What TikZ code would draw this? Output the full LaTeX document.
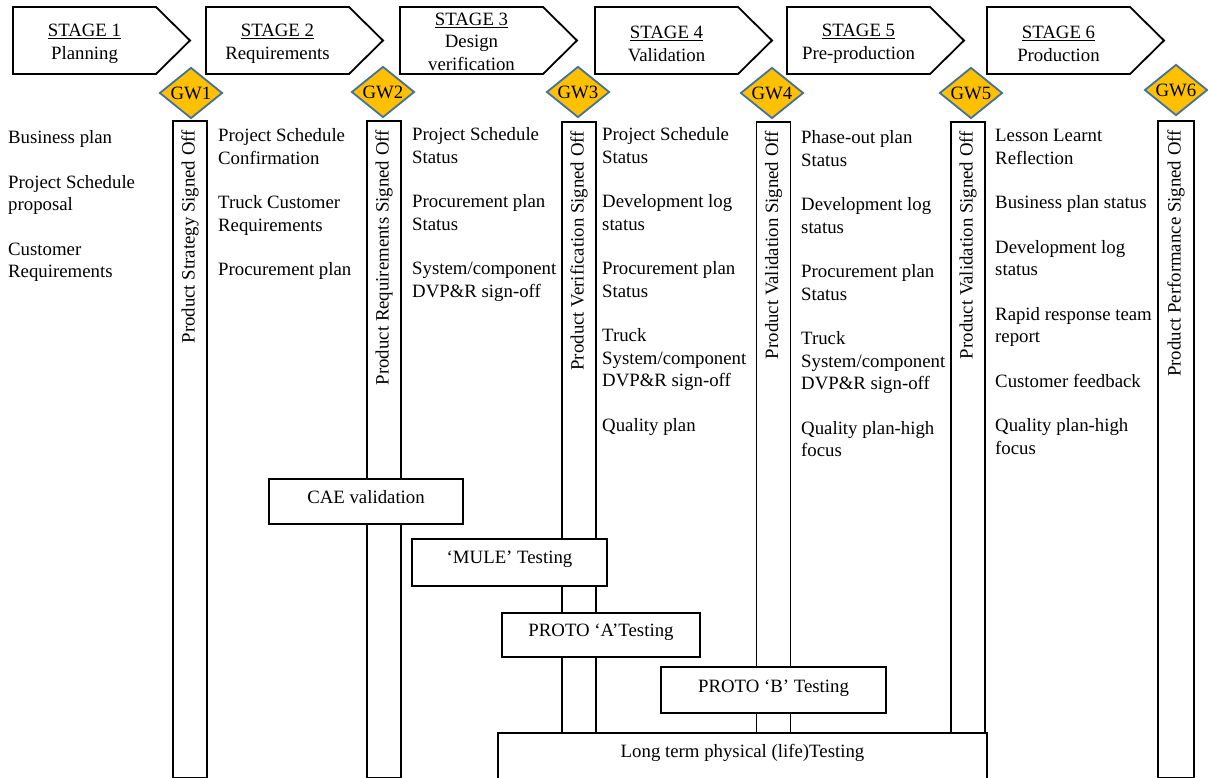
\documentclass[tikz,border=0pt]{standalone}
\usepackage{fontspec}
\setmainfont{Liberation Serif}
\usetikzlibrary{shapes.geometric}
\definecolor{gwfill}{HTML}{FFC000}
\definecolor{gwline}{HTML}{41719C}
\begin{document}
\begin{tikzpicture}[x=1pt,y=-1pt,
  txt/.style={font=\fontsize{18.8}{22.5}\selectfont, inner sep=0pt},
  stagebox/.style={draw=black, line width=1.8pt, fill=white, line join=miter},
  stagetext/.style={txt, align=center},
  gate/.style={diamond, aspect=1.25, draw=gwline, fill=gwfill, line width=1.8pt,
    txt, minimum width=63pt, minimum height=51pt},
  bar/.style={draw=black, line width=1.8pt, fill=white, inner sep=0pt,
    minimum width=34pt, anchor=north},
  barlabel/.style={txt, rotate=90, anchor=east},
  items/.style={txt, align=left, anchor=north west},
  testbox/.style={draw=black, line width=1.8pt, fill=white, txt},
]
\clip (0,0) rectangle (1208,778);

% stage banners
\foreach \l/\n/\t/\y in {13/1/Planning/44, 206/2/Requirements/44, 400/3/{Design\\verification}/41.5,
                      595/4/Validation/44, 787/5/Pre-production/44, 987/6/Production/44} {
  \draw[stagebox] (\l,7) -- ++(143,0) -- ++(34,33.5) -- ++(-34,33.5) -- ++(-143,0) -- cycle;
  \node[stagetext] (stage\n) at (\l+71.5,\y) {\underline{STAGE \n}\\\t};
}

% gateway bars
\node[bar, minimum height=657pt] (bar1) at (190,120) {};
\node[bar, minimum height=657pt] (bar2) at (384,120) {};
\node[bar, minimum height=612pt] (bar3) at (579,121) {};
\node[bar, minimum height=612pt] (bar4) at (773.5,121) {};
\node[bar, minimum height=612pt] (bar5) at (968,121) {};
\node[bar, minimum height=657pt, minimum width=36pt] (bar6) at (1176,120) {};

\node[barlabel] (lab1) at ([yshift=-10pt]bar1.north) {Product Strategy Signed Off};
\node[barlabel] (lab2) at ([yshift=-10pt]bar2.north) {Product Requirements Signed Off};
\node[barlabel] (lab3) at ([yshift=-10pt]bar3.north) {Product Verification Signed Off};
\node[barlabel] (lab4) at ([yshift=-10pt]bar4.north) {Product Validation Signed Off};
\node[barlabel] (lab5) at ([yshift=-10pt]bar5.north) {Product Validation Signed Off};
\node[barlabel] (lab6) at ([yshift=-10pt]bar6.north) {Product Performance Signed Off};

% gateways
\node[gate] (gw1) at (191,93) {GW1};
\node[gate] (gw2) at (383,92) {GW2};
\node[gate] (gw3) at (578,92) {GW3};
\node[gate] (gw4) at (772,93) {GW4};
\node[gate] (gw5) at (971,93) {GW5};
\node[gate] (gw6) at (1176,90) {GW6};

% deliverables per stage
\node[items] (col0) at (8,130.4) {Business plan\\[22pt]
  Project Schedule\\proposal\\[22pt]
  Customer\\Requirements};
\node[items] (col1) at (218,128.4) {Project Schedule\\Confirmation\\[22pt]
  Truck Customer\\Requirements\\[22pt]
  Procurement plan};
\node[items] (col2) at (412,127.4) {Project Schedule\\Status\\[22pt]
  Procurement plan\\Status\\[22pt]
  System/component\\DVP\&R sign-off};
\node[items] (col3) at (602,127.4) {Project Schedule\\Status\\[22pt]
  Development log\\status\\[22pt]
  Procurement plan\\Status\\[22pt]
  Truck\\System/component\\DVP\&R sign-off\\[22pt]
  Quality plan};
\node[items] (col4) at (801,130.4) {Phase-out plan\\Status\\[22pt]
  Development log\\status\\[22pt]
  Procurement plan\\Status\\[22pt]
  Truck\\System/component\\DVP\&R sign-off\\[22pt]
  Quality plan-high\\focus};
\node[items] (col5) at (995,129.4) {Lesson Learnt\\Reflection\\[22pt]
  Business plan status\\[22pt]
  Development log\\status\\[22pt]
  Rapid response team\\report\\[22pt]
  Customer feedback\\[22pt]
  Quality plan-high\\focus};

% testing activities
\node[testbox, minimum width=194pt, minimum height=45pt] (cae) at (366,501.5)
  {\smash{\raisebox{-1.5pt}{CAE validation}}};
\node[testbox, minimum width=195pt, minimum height=47pt] (mule) at (509.5,562.5)
  {\smash{\raisebox{-0.5pt}{‘MULE’ Testing}}};
\node[testbox, minimum width=198pt, minimum height=44pt] (protoa) at (601,635)
  {\smash{\raisebox{-1pt}{PROTO ‘A’Testing}}};
\node[testbox, minimum width=225pt, minimum height=46pt] (protob) at (773.5,690)
  {\smash{\raisebox{-2pt}{PROTO ‘B’ Testing}}};
\node[testbox, minimum width=489pt, minimum height=48pt] (life) at (742.5,757)
  {\smash{Long term physical (life)Testing}};
\end{tikzpicture}
\end{document}
